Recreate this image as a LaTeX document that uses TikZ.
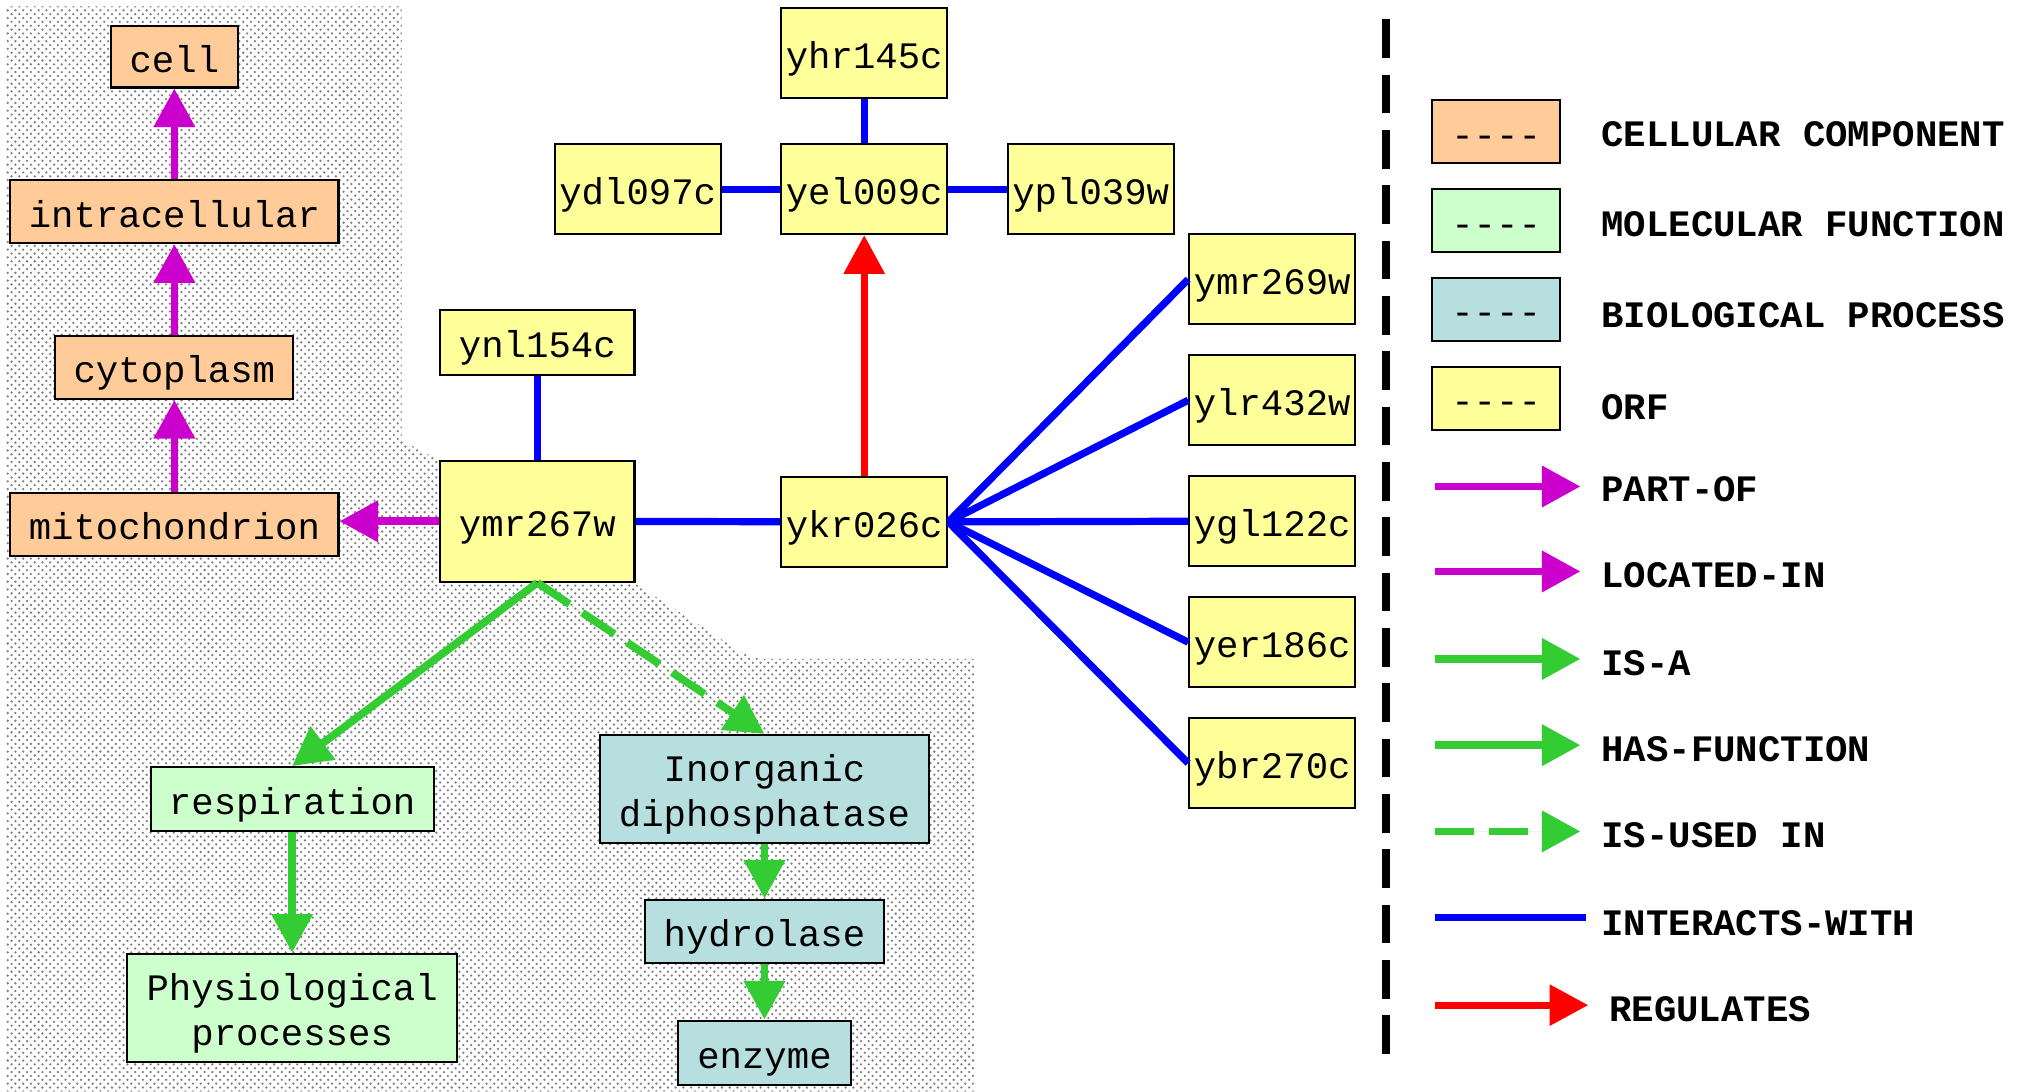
\documentclass[tikz,border=0pt]{standalone}
\usepackage{fontspec}
\setmonofont{Liberation Mono}
\usetikzlibrary{arrows.meta,patterns}

\definecolor{ccfill}{HTML}{FFCC99}
\definecolor{mffill}{HTML}{CCFFCC}
\definecolor{bpfill}{HTML}{B8DFE0}
\definecolor{orffill}{HTML}{FFFF99}
\definecolor{partof}{HTML}{CC00CC}
\definecolor{isagreen}{HTML}{33CC33}
\definecolor{interblue}{HTML}{0000FF}
\definecolor{regred}{HTML}{FF0000}

% two centred lines, set a little lower inside their box
\newcommand\mytwolines[2]{\raisebox{-2.5pt}[\height][\depth]{%
  \begin{tabular}{@{}c@{}}#1\\#2\end{tabular}}}

\begin{document}
\begin{tikzpicture}[x=0.5pt,y=-0.5pt,
  box/.style={draw=black, line width=0.8pt, inner sep=0pt,
    font=\ttfamily\fontsize{14.5}{17.5}\selectfont,
    execute at begin node={\rule[-3.5pt]{0pt}{19pt}}},
  wh/.style 2 args={minimum width=#1, minimum height=#2},
  ccbox/.style={box, fill=ccfill},
  mfbox/.style={box, fill=mffill},
  bpbox/.style={box, fill=bpfill},
  orfbox/.style={box, fill=orffill, wh={64.5pt}{35pt}},
  legtext/.style={anchor=west, inner sep=0pt,
    font=\ttfamily\bfseries\fontsize{14.5}{17.5}\selectfont},
  bigtip/.style={-{Triangle[length=15pt,width=15.5pt]}},
  partofarrow/.style={bigtip, draw=partof, fill=partof, line width=3pt},
  isaarrow/.style={bigtip, draw=isagreen, fill=isagreen, line width=3pt},
  usedarrow/.style={isaarrow, dash pattern=on 15pt off 6pt},
  interline/.style={draw=interblue, line width=2.8pt},
  regarrow/.style={bigtip, draw=regred, fill=regred, line width=2.6pt},
]

% canvas
\fill[white] (0,0) rectangle (1568,848);

% stippled backdrop behind the ontology part
\fill[pattern=crosshatch dots, pattern color=gray]
  (5,5) -- (312,5) -- (312,342) -- (342,358) -- (493,358) -- (493,453)
  -- (578,508) -- (590,512) -- (758,512) -- (758,848) -- (5,848) -- cycle;

% cellular component terms
\node[ccbox, wh={49.5pt}{24pt}]    (cell)   at (135.5,44)    {cell};
\node[ccbox, wh={127.5pt}{24.5pt}] (intra)  at (135.5,164.5) {intracellular};
\node[ccbox, wh={92.5pt}{24.5pt}]  (cyto)   at (135.5,285.5) {cytoplasm};
\node[ccbox, wh={127.5pt}{24.5pt}] (mito)   at (135.5,407.5) {mitochondrion};

% ORFs
\node[box, fill=orffill, wh={75.5pt}{47pt}] (ymr267w) at (417.5,405) {ymr267w};
\node[box, fill=orffill, wh={75.5pt}{25pt}] (ynl154c) at (417.5,266) {ynl154c};
\node[orfbox] (ykr026c) at (671.5,405.5) {ykr026c};
\node[orfbox] (yel009c) at (671.5,147)   {yel009c};
\node[orfbox] (yhr145c) at (671.5,41.5)  {yhr145c};
\node[orfbox] (ydl097c) at (495.5,147)   {ydl097c};
\node[orfbox] (ypl039w) at (847.5,147)   {ypl039w};
\node[orfbox] (ymr269w) at (988.5,217)   {ymr269w};
\node[orfbox] (ylr432w) at (988.5,311)   {ylr432w};
\node[orfbox] (ygl122c) at (988.5,405)   {ygl122c};
\node[orfbox] (yer186c) at (988.5,499)   {yer186c};
\node[orfbox] (ybr270c) at (988.5,593)   {ybr270c};

% molecular function and biological process terms
\node[mfbox, wh={110pt}{25pt}] (resp)   at (227,621) {respiration};
\node[mfbox, wh={128pt}{42pt}, execute at begin node={}] (physio) at (227,783)
  {\mytwolines{Physiological}{processes}};
\node[bpbox, wh={128pt}{42pt}, execute at begin node={}] (inorg)  at (594,613)
  {\mytwolines{Inorganic}{diphosphatase}};
\node[bpbox, wh={93pt}{24.5pt}] (hydro) at (594,723.5) {hydrolase};
\node[bpbox, wh={67pt}{25pt}]  (enzyme) at (594,818) {enzyme};

% part-of / located-in
\draw[partofarrow] (mito) -- (cyto);
\draw[partofarrow] (cyto) -- (intra);
\draw[partofarrow] (intra) -- (cell);
\draw[partofarrow] (ymr267w.west) -- (ymr267w.west -| mito.east);

% interactions
\draw[interline] (ynl154c) -- (ymr267w);
\draw[interline] (ymr267w) -- (ykr026c);
\draw[interline] (yhr145c) -- (yel009c);
\draw[interline] (ydl097c) -- (yel009c);
\draw[interline] (yel009c) -- (ypl039w);
\foreach \t in {ymr269w,ylr432w,ygl122c,yer186c,ybr270c}
  \draw[interline] (ykr026c.east) -- (\t.west);

% regulation
\draw[regarrow] (ykr026c) -- (yel009c);

% is-a / has-function / is-used-in
\draw[isaarrow] (ymr267w.south) -- (resp.north);
\draw[usedarrow] (ymr267w.south) -- (inorg.north);
\draw[isaarrow] (resp) -- (physio);
\draw[isaarrow] (inorg) -- (hydro);
\draw[isaarrow] (hydro) -- (enzyme);

% legend separator
\coordinate (septop) at (1077,15);
\coordinate (sepbot) at (1077,828);
\draw[line width=3pt, dash pattern=on 15pt off 6.5pt] (septop) -- (sepbot);

% legend swatches
\foreach \y/\f/\n in {102.5/ccfill/lcc, 171.5/mffill/lmf, 240.5/bpfill/lbp, 309.5/orffill/lorf}
  \node[box, fill=\f, wh={49.5pt}{24.5pt}] (\n) at (1162.5,\y) {----};

\node[legtext] (tcc)  at (1244,104) {CELLULAR COMPONENT};
\node[legtext] (tmf)  at (1244,174) {MOLECULAR FUNCTION};
\node[legtext] (tbp)  at (1244,245) {BIOLOGICAL PROCESS};
\node[legtext] (torf) at (1244,316) {ORF};
\node[legtext] (tpart) at (1244,380) {PART-OF};
\node[legtext] (tloc)  at (1244,447) {LOCATED-IN};
\node[legtext] (tisa)  at (1244,515) {IS-A};
\node[legtext] (thas)  at (1244,582) {HAS-FUNCTION};
\node[legtext] (tused) at (1244,649) {IS-USED IN};
\node[legtext] (tint)  at (1244,717) {INTERACTS-WITH};
\node[legtext] (treg)  at (1250,784) {REGULATES};

% legend line samples
\coordinate (a1) at (1115,378); \coordinate (b1) at (1228,378);
\coordinate (a2) at (1115,444); \coordinate (b2) at (1228,444);
\coordinate (a3) at (1115,512); \coordinate (b3) at (1228,512);
\coordinate (a4) at (1115,579); \coordinate (b4) at (1228,579);
\coordinate (a5) at (1115,646); \coordinate (b5) at (1228,646);
\coordinate (a6) at (1115,713); \coordinate (b6) at (1232,713);
\coordinate (a7) at (1115,781); \coordinate (b7) at (1234,781);
\draw[partofarrow] (a1) -- (b1);
\draw[partofarrow] (a2) -- (b2);
\draw[isaarrow] (a3) -- (b3);
\draw[isaarrow] (a4) -- (b4);
\draw[usedarrow] (a5) -- (b5);
\draw[interline] (a6) -- (b6);
\draw[regarrow] (a7) -- (b7);

\end{tikzpicture}
\end{document}
